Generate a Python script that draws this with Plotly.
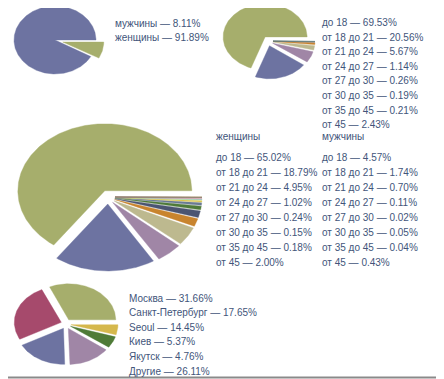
import math
import plotly.graph_objects as go

# ---------------- data ----------------
gender_labels = ["мужчины", "женщины"]
gender_values = [8.11, 91.89]

age_labels = ["до 18", "от 18 до 21", "от 21 до 24", "от 24 до 27",
              "от 27 до 30", "от 30 до 35", "от 35 до 45", "от 45"]
age_values = [69.53, 20.56, 5.67, 1.14, 0.26, 0.19, 0.21, 2.43]

women_age_values = [65.02, 18.79, 4.95, 1.02, 0.24, 0.15, 0.18, 2.00]
men_age_values = [4.57, 1.74, 0.70, 0.11, 0.02, 0.05, 0.04, 0.43]

city_labels = ["Москва", "Санкт-Петербург", "Seoul", "Киев", "Якутск", "Другие"]
city_values = [31.66, 17.65, 14.45, 5.37, 4.76, 26.11]

# ---------------- style ----------------
GREEN = "#a6ae6c"
BLUE = "#6d73a1"
MAUVE = "#a086a6"
KHAKI = "#bdb98f"
MAROON = "#a64a6c"
DKGREEN = "#4f7b37"
YELLOW = "#d5b84c"
small_palette = ["#c8842e", "#4b5572", "#4e7a3a", "#6a7b94", "#d9c44c",
                 "#a9dc92", "#93c6cf", "#e2909c", "#8c6aa8", "#5aa3a3",
                 "#b04a66", "#9aa15c"]
TEXT = "#42557a"
FONT = "Liberation Sans, Arial, sans-serif"
FS = 10

fig = go.Figure()


def add_pie(names, values, colors, cx, cy, rx, ry, explode):
    total = sum(values)
    a = 0.0
    for name, v, col, d in zip(names, values, colors, explode):
        span = v / total * 360.0
        a0 = a
        mid = math.radians(a0 + span / 2)
        ox, oy = d * math.cos(mid), -d * math.sin(mid)
        n = max(2, int(span * 2) + 1)
        xs = [cx + ox]
        ys = [cy + oy]
        for i in range(n + 1):
            t = math.radians(a0 + span * i / n)
            xs.append(cx + ox + rx * math.cos(t))
            ys.append(cy + oy - ry * math.sin(t))
        xs.append(cx + ox)
        ys.append(cy + oy)
        fig.add_trace(go.Scatter(
            x=xs, y=ys, fill="toself", fillcolor=col, mode="lines",
            line=dict(color=col, width=0.4), hoverinfo="text",
            text=f"{name} — {v:.2f}%", showlegend=False))
        a += span


# Pie 1: gender (women first ccw from east, men exploded)
order1 = [1, 0]
add_pie([gender_labels[i] for i in order1], [gender_values[i] for i in order1],
        [BLUE, GREEN], 55, 40, 41, 34, [0, 8])

# Pie 2: age, sorted by size
order2 = sorted(range(len(age_values)), key=lambda i: -age_values[i])
cols2 = [GREEN, BLUE, MAUVE, KHAKI] + small_palette
add_pie([age_labels[i] for i in order2], [age_values[i] for i in order2],
        cols2, 268, 41, 42, 33, [5] * len(order2))

# Pie 3: age by gender, sorted by size
combo_names = ["женщины " + l for l in age_labels] + ["мужчины " + l for l in age_labels]
combo_vals = women_age_values + men_age_values
order3 = sorted(range(len(combo_vals)), key=lambda i: -combo_vals[i])
cols3 = [GREEN, BLUE, MAUVE, KHAKI] + small_palette
add_pie([combo_names[i] for i in order3], [combo_vals[i] for i in order3],
        cols3, 108, 197, 87, 67, [7] * len(order3))

# Pie 4: cities
order4 = [0, 5, 1, 2, 3, 4]
cols4 = [GREEN, MAROON, BLUE, MAUVE, DKGREEN, YELLOW]
add_pie([city_labels[i] for i in order4], [city_values[i] for i in order4],
        cols4, 66, 324, 47, 36, [5] * len(order4))

# ---------------- legends as text ----------------
ann = []


def txt(x, y, s):
    ann.append(dict(x=x, y=y, xref="x", yref="y", text=s, showarrow=False,
                    xanchor="left", yanchor="middle",
                    font=dict(family=FONT, size=FS, color=TEXT)))


for i, (l, v) in enumerate(zip(gender_labels, gender_values)):
    txt(113, 23 + 14.5 * i, f"{l} — {v:.2f}%")

for i, (l, v) in enumerate(zip(age_labels, age_values)):
    txt(320, 22.5 + 14.6 * i, f"{l} — {v:.2f}%")

txt(214, 136, "женщины")
txt(320, 136, "мужчины")
for i, l in enumerate(age_labels):
    txt(214, 157 + 15 * i, f"{l} — {women_age_values[i]:.2f}%")
    txt(320, 157 + 15 * i, f"{l} — {men_age_values[i]:.2f}%")

for i, (l, v) in enumerate(zip(city_labels, city_values)):
    txt(127, 298 + 14.6 * i, f"{l} — {v:.2f}%")

shapes = [
    dict(type="line", xref="x", yref="y", x0=441.5, x1=441.5, y0=8, y1=375,
         line=dict(color="#d6d6d6", width=1, dash="dot")),
    dict(type="line", xref="x", yref="y", x0=8, x1=444, y0=377.5, y1=377.5,
         line=dict(color="#8a8a8a", width=2)),
]

# The page body has an 8px margin: the axes are laid out so data units equal
# window pixels.
fig.update_layout(
    width=436, height=371,
    margin=dict(l=0, r=0, t=0, b=0),
    paper_bgcolor="white", plot_bgcolor="white",
    xaxis=dict(range=[8, 444], visible=False, fixedrange=True),
    yaxis=dict(range=[379, 8], visible=False, fixedrange=True),
    annotations=ann, shapes=shapes, showlegend=False,
)

fig.write_html("out.html")
